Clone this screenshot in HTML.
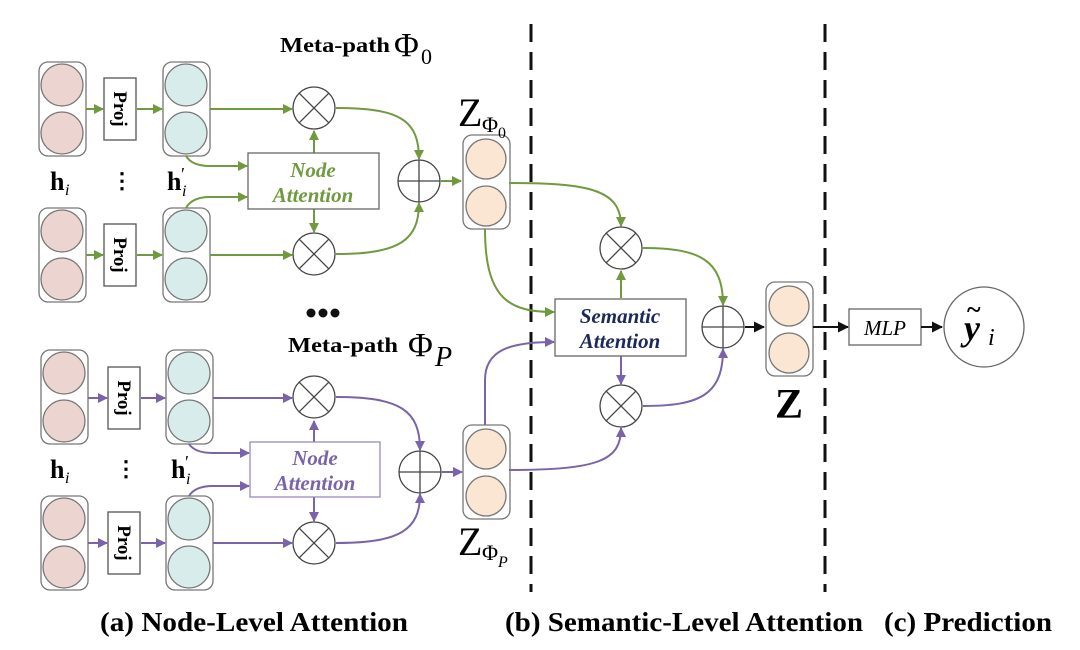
<!DOCTYPE html>
<html><head><meta charset="utf-8"><style>
html,body{margin:0;padding:0;background:#fff}
svg{display:block}
text{font-family:"Liberation Serif",serif}
</style></head><body>
<svg width="1080" height="650" viewBox="0 0 1080 650" xmlns="http://www.w3.org/2000/svg">
<defs>
<marker id="ag" markerWidth="10" markerHeight="10" refX="9" refY="5" orient="auto" markerUnits="userSpaceOnUse"><path d="M0,0 L10,5 L0,10 Z" fill="#6f9a3e"/></marker>
<marker id="ap" markerWidth="10" markerHeight="10" refX="9" refY="5" orient="auto" markerUnits="userSpaceOnUse"><path d="M0,0 L10,5 L0,10 Z" fill="#7a63a8"/></marker>
<marker id="ak" markerWidth="11" markerHeight="11" refX="10" refY="5.5" orient="auto" markerUnits="userSpaceOnUse"><path d="M0,0 L11,5.5 L0,11 Z" fill="#111"/></marker>
<g id="pink"><rect x="-23" y="-47" width="47" height="94" rx="9" fill="#fff" stroke="#777" stroke-width="1.3"/><circle cx="0" cy="-24" r="21" fill="#ecd5d0" stroke="#777" stroke-width="1.3"/><circle cx="0" cy="24" r="21" fill="#ecd5d0" stroke="#777" stroke-width="1.3"/></g>
<g id="teal"><rect x="-23" y="-47" width="47" height="94" rx="9" fill="#fff" stroke="#777" stroke-width="1.3"/><circle cx="0" cy="-24" r="21" fill="#d9ecec" stroke="#777" stroke-width="1.3"/><circle cx="0" cy="24" r="21" fill="#d9ecec" stroke="#777" stroke-width="1.3"/></g>
<g id="orng"><rect x="-23" y="-47" width="47" height="94" rx="9" fill="#fff" stroke="#777" stroke-width="1.3"/><circle cx="0" cy="-23" r="20" fill="#fbe6d3" stroke="#777" stroke-width="1.3"/><circle cx="0" cy="24" r="20" fill="#fbe6d3" stroke="#777" stroke-width="1.3"/></g>
<g id="otimes"><circle r="21" fill="#fff" stroke="#444" stroke-width="1.3"/><path d="M-14.8,-14.8 L14.8,14.8 M14.8,-14.8 L-14.8,14.8" stroke="#444" stroke-width="1.3"/></g>
<g id="oplus"><circle r="21" fill="#fff" stroke="#444" stroke-width="1.3"/><path d="M-21,0 L21,0 M0,-21 L0,21" stroke="#444" stroke-width="1.3"/></g>
<g id="proj"><rect x="-16" y="-31" width="32" height="62" fill="#fff" stroke="#555" stroke-width="1.3"/><text transform="rotate(90)" x="0" y="6" text-anchor="middle" font-size="19" font-weight="bold">Proj</text></g>
</defs>

<line x1="531" y1="24" x2="531" y2="592" stroke="#111" stroke-width="3" stroke-dasharray="18,10"/>
<line x1="825" y1="24" x2="825" y2="592" stroke="#111" stroke-width="3" stroke-dasharray="18,10"/>

<g>
<text x="280" y="52" font-size="21" font-weight="bold" textLength="110" lengthAdjust="spacingAndGlyphs">Meta-path</text>
<text x="394" y="56" font-size="34">Φ</text><text x="421" y="64" font-size="22">0</text>
<use href="#pink" x="62" y="109"/>
<use href="#proj" x="120" y="109"/>
<use href="#teal" x="186" y="109"/>
<use href="#pink" x="62" y="255"/>
<use href="#proj" x="120" y="255"/>
<use href="#teal" x="186" y="255"/>
<g stroke="#6f9a3e" stroke-width="2" fill="none">
<line x1="86" y1="109" x2="103" y2="109" marker-end="url(#ag)"/>
<line x1="137" y1="109" x2="162" y2="109" marker-end="url(#ag)"/>
<line x1="86" y1="255" x2="103" y2="255" marker-end="url(#ag)"/>
<line x1="137" y1="255" x2="162" y2="255" marker-end="url(#ag)"/>
<line x1="210" y1="109" x2="292" y2="109" marker-end="url(#ag)"/>
<line x1="210" y1="255" x2="292" y2="255" marker-end="url(#ag)"/>
<path d="M186,156 Q192,166 210,166 L247,166" marker-end="url(#ag)"/>
<path d="M186,208 Q192,197 210,197 L247,197" marker-end="url(#ag)"/>
<line x1="314" y1="153" x2="314" y2="131" marker-end="url(#ag)"/>
<line x1="314" y1="209" x2="314" y2="232" marker-end="url(#ag)"/>
<path d="M336,108 C400,108 419,120 419,159" marker-end="url(#ag)"/>
<path d="M336,254 C400,254 419,240 419,203" marker-end="url(#ag)"/>
<line x1="441" y1="181" x2="461" y2="181" marker-end="url(#ag)"/>
</g>
<use href="#otimes" x="314" y="108"/>
<use href="#otimes" x="314" y="254"/>
<use href="#oplus" x="419" y="181"/>
<rect x="248" y="153" width="131" height="56" fill="#fff" stroke="#666" stroke-width="1.3"/>
<text x="313" y="177" text-anchor="middle" font-size="21" font-weight="bold" font-style="italic" fill="#6f9a3e">Node</text>
<text x="313" y="202" text-anchor="middle" font-size="21" font-weight="bold" font-style="italic" fill="#6f9a3e">Attention</text>
<text x="50" y="190" font-size="26" font-weight="bold">h</text><text x="65" y="195" font-size="16" font-style="italic">i</text>
<text x="122" y="188" text-anchor="middle" font-size="22" font-weight="bold">⋮</text>
<text x="167" y="190" font-size="26" font-weight="bold">h</text><text x="181" y="180" font-size="18">′</text><text x="182" y="196" font-size="16" font-style="italic">i</text>
<circle cx="311" cy="313" r="4.5" fill="#111"/><circle cx="323" cy="313" r="4.5" fill="#111"/><circle cx="335" cy="313" r="4.5" fill="#111"/>
</g>

<use href="#orng" x="486" y="182"/>
<text x="458" y="126" font-size="40">Z</text><text x="482" y="132" font-size="22">Φ</text><text x="498" y="138" font-size="16">0</text>

<g>
<text x="288" y="352" font-size="21" font-weight="bold" textLength="110" lengthAdjust="spacingAndGlyphs">Meta-path</text>
<text x="408" y="356" font-size="34">Φ</text><text x="435" y="366" font-size="28" font-style="italic">P</text>
<use href="#pink" x="64" y="397"/>
<use href="#proj" x="124" y="398"/>
<use href="#teal" x="189" y="397"/>
<use href="#pink" x="64" y="543"/>
<use href="#proj" x="124" y="543"/>
<use href="#teal" x="189" y="543"/>
<g stroke="#7a63a8" stroke-width="2" fill="none">
<line x1="88" y1="398" x2="107" y2="398" marker-end="url(#ap)"/>
<line x1="141" y1="398" x2="165" y2="398" marker-end="url(#ap)"/>
<line x1="88" y1="543" x2="107" y2="543" marker-end="url(#ap)"/>
<line x1="141" y1="543" x2="165" y2="543" marker-end="url(#ap)"/>
<line x1="213" y1="398" x2="292" y2="398" marker-end="url(#ap)"/>
<line x1="213" y1="543" x2="292" y2="543" marker-end="url(#ap)"/>
<path d="M189,444 Q195,453 213,453 L249,453" marker-end="url(#ap)"/>
<path d="M189,496 Q195,486 213,486 L249,486" marker-end="url(#ap)"/>
<line x1="314" y1="442" x2="314" y2="421" marker-end="url(#ap)"/>
<line x1="314" y1="497" x2="314" y2="521" marker-end="url(#ap)"/>
<path d="M336,397 C400,397 420,410 420,450" marker-end="url(#ap)"/>
<path d="M336,543 C400,543 420,530 420,494" marker-end="url(#ap)"/>
<line x1="442" y1="472" x2="462" y2="472" marker-end="url(#ap)"/>
</g>
<use href="#otimes" x="314" y="397"/>
<use href="#otimes" x="314" y="543"/>
<use href="#oplus" x="420" y="472"/>
<rect x="250" y="442" width="130" height="55" fill="#fff" stroke="#9a88c4" stroke-width="1.3"/>
<text x="315" y="465" text-anchor="middle" font-size="21" font-weight="bold" font-style="italic" fill="#7a63a8">Node</text>
<text x="315" y="490" text-anchor="middle" font-size="21" font-weight="bold" font-style="italic" fill="#7a63a8">Attention</text>
<text x="50" y="478" font-size="26" font-weight="bold">h</text><text x="65" y="483" font-size="16" font-style="italic">i</text>
<text x="126" y="476" text-anchor="middle" font-size="22" font-weight="bold">⋮</text>
<text x="171" y="478" font-size="26" font-weight="bold">h</text><text x="185" y="468" font-size="18">′</text><text x="186" y="484" font-size="16" font-style="italic">i</text>
</g>

<use href="#orng" x="486" y="472"/>
<text x="458" y="555" font-size="40">Z</text><text x="482" y="560" font-size="22">Φ</text><text x="498" y="567" font-size="16" font-style="italic">P</text>

<g stroke="#6f9a3e" stroke-width="2" fill="none">
<path d="M509,183 C590,183 621,190 621,226" marker-end="url(#ag)"/>
<path d="M485,229 C485,300 510,312 554,312" marker-end="url(#ag)"/>
<line x1="621" y1="298" x2="621" y2="271" marker-end="url(#ag)"/>
<path d="M643,248 C700,248 723,260 723,305" marker-end="url(#ag)"/>
</g>
<g stroke="#7a63a8" stroke-width="2" fill="none">
<path d="M485,425 L485,380 C485,350 510,342 554,342" marker-end="url(#ap)"/>
<path d="M509,470 C600,470 621,460 621,428" marker-end="url(#ap)"/>
<line x1="621" y1="356" x2="621" y2="384" marker-end="url(#ap)"/>
<path d="M643,406 C700,406 723,395 723,349" marker-end="url(#ap)"/>
</g>
<use href="#otimes" x="621" y="248"/>
<use href="#otimes" x="621" y="406"/>
<rect x="555" y="299" width="131" height="57" fill="#fff" stroke="#666" stroke-width="1.3"/>
<text x="620" y="323" text-anchor="middle" font-size="21" font-weight="bold" font-style="italic" fill="#1c2a5a">Semantic</text>
<text x="620" y="348" text-anchor="middle" font-size="21" font-weight="bold" font-style="italic" fill="#1c2a5a">Attention</text>
<use href="#oplus" x="723" y="327"/>
<line x1="745" y1="327" x2="764" y2="327" stroke="#111" stroke-width="2" marker-end="url(#ak)"/>
<use href="#orng" x="789" y="329"/>
<text x="789" y="418" text-anchor="middle" font-size="42" font-weight="bold">Z</text>

<line x1="813" y1="327" x2="848" y2="327" stroke="#111" stroke-width="2" marker-end="url(#ak)"/>
<rect x="849" y="309" width="72" height="36" fill="#fff" stroke="#666" stroke-width="1.3"/>
<text x="885" y="335" text-anchor="middle" font-size="21" font-style="italic">MLP</text>
<line x1="921" y1="327" x2="942" y2="327" stroke="#111" stroke-width="2" marker-end="url(#ak)"/>
<circle cx="984" cy="327" r="40" fill="#fff" stroke="#666" stroke-width="1.3"/>
<text x="964" y="340" font-size="36" font-weight="bold" font-style="italic">y</text>
<text x="967" y="318" font-size="26" font-weight="bold">~</text>
<text x="988" y="345" font-size="24" font-style="italic">i</text>

<text x="100" y="631" font-size="27" font-weight="bold" textLength="308" lengthAdjust="spacingAndGlyphs">(a) Node-Level Attention</text>
<text x="505" y="631" font-size="27" font-weight="bold" textLength="358" lengthAdjust="spacingAndGlyphs">(b) Semantic-Level Attention</text>
<text x="884" y="631" font-size="27" font-weight="bold" textLength="168" lengthAdjust="spacingAndGlyphs">(c) Prediction</text>
</svg>
</body></html>
